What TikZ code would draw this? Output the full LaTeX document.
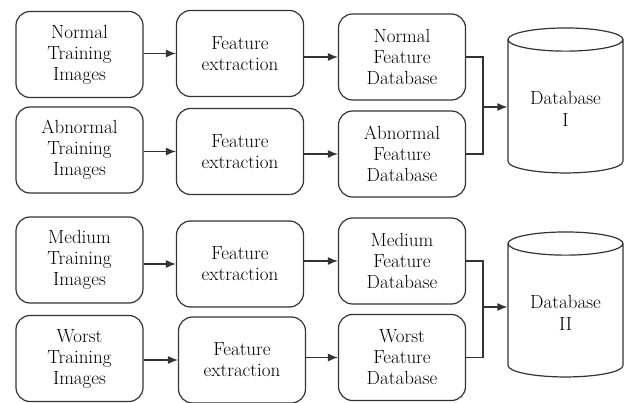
\documentclass[tikz,border=0pt]{standalone}
\usepackage{tikz}
\usetikzlibrary{arrows.meta}
\usetikzlibrary{shapes.geometric}
\colorlet{linegray}{black!80}

\begin{document}
\begin{tikzpicture}[x=1pt,y=1pt,
    stagebox/.style={draw=linegray, line width=1.2pt, rounded corners=14pt,
        minimum width=127pt, minimum height=86pt, align=center,
        font=\rmfamily\fontsize{19}{21}\selectfont},
    dbcyl/.style={draw=linegray, line width=1.2pt, cylinder, shape border rotate=90,
        aspect=0.3, minimum width=115pt, minimum height=145pt, align=center,
        font=\rmfamily\fontsize{19}{22}\selectfont},
    flow/.style={line width=1.2pt, draw=linegray, -{Latex[length=10pt,width=8pt]}},
    mergeline/.style={line width=1.2pt, draw=linegray}]
\useasboundingbox (0,0) rectangle (624,402);
% first group
\node[stagebox] (img1) at (79.5,347.5) {Normal\\Training\\Images};
\node[stagebox] (img2) at (79.5,252) {Abnormal\\Training\\Images};
\node[stagebox] (fex1) at (240,348.5) {Feature\\extraction};
\node[stagebox] (fex2) at (240,250.5) {Feature\\extraction};
\node[stagebox] (fdb1) at (402,345) {Normal\\Feature\\Database};
\node[stagebox] (fdb2) at (402,248) {Abnormal\\Feature\\Database};
\node[dbcyl] (dbI) at (565.5,293.5) {Database\\I};
\coordinate (mrgI) at (483,295);
% second group
\node[stagebox] (img3) at (79.5,142) {Medium\\Training\\Images};
\node[stagebox] (img4) at (79.5,43.5) {Worst\\Training\\Images};
\node[stagebox] (fex3) at (240,138) {Feature\\extraction};
\node[stagebox] (fex4) at (242,42) {Feature\\extraction};
\node[stagebox] (fdb3) at (402,141) {Medium\\Feature\\Database};
\node[stagebox] (fdb4) at (402,44.5) {Worst\\Feature\\Database};
\node[dbcyl] (dbII) at (565.5,89.5) {Database\\II};
\coordinate (mrgII) at (483,95);

\draw[flow] (img1.east |- fex1.west) -- (fex1.west);
\draw[flow] (img2.east |- fex2.west) -- (fex2.west);
\draw[flow] (fex1.east |- fdb1.west) -- (fdb1.west);
\draw[flow] (fex2.east |- fdb2.west) -- (fdb2.west);
\draw[flow] (img3.east |- fex3.west) -- (fex3.west);
\draw[flow] (img4.east |- fex4.west) -- (fex4.west);
\draw[flow] (fex3.east |- fdb3.west) -- (fdb3.west);
\draw[flow] (fex4.east |- fdb4.west) -- (fdb4.west);

\draw[mergeline] (fdb1.east) -| (mrgI) |- (fdb2.east);
\draw[flow] (mrgI) -- (mrgI -| dbI.west);
\draw[mergeline] (fdb3.east) -| (mrgII) |- (fdb4.east);
\draw[flow] (mrgII) -- (mrgII -| dbII.west);
\end{tikzpicture}
\end{document}
